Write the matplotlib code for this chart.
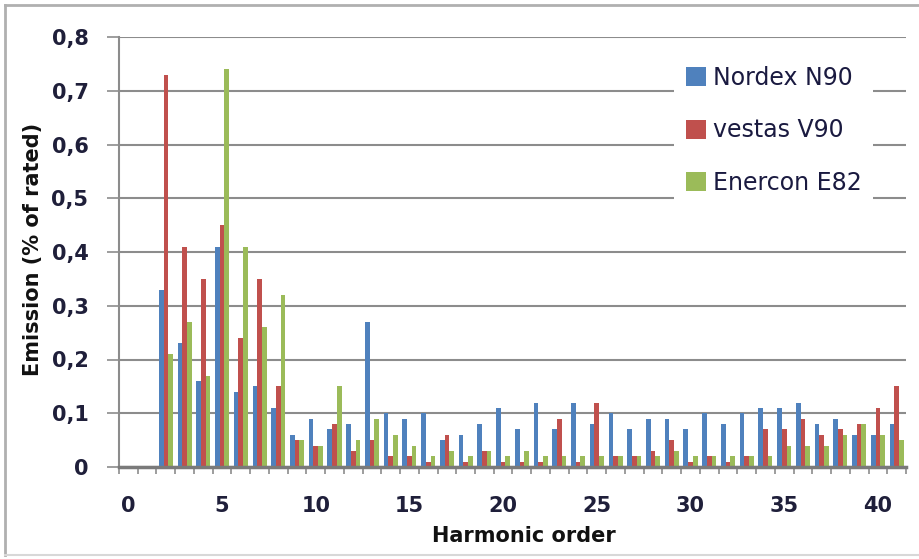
import matplotlib
matplotlib.use("Agg")
import matplotlib.pyplot as plt
from matplotlib.lines import Line2D
import numpy as np

plt.rcParams['font.family'] = ['DejaVu Sans']

harmonics = list(range(0, 42))
nordex_n90 = [0, 0, 0.33, 0.23, 0.16, 0.41, 0.14, 0.15, 0.11, 0.06,
              0.09, 0.07, 0.08, 0.27, 0.10, 0.09, 0.10, 0.05, 0.06, 0.08,
              0.11, 0.07, 0.12, 0.07, 0.12, 0.08, 0.10, 0.07, 0.09, 0.09,
              0.07, 0.10, 0.08, 0.10, 0.11, 0.11, 0.12, 0.08, 0.09, 0.06,
              0.06, 0.08]
vestas_v90 = [0, 0, 0.73, 0.41, 0.35, 0.45, 0.24, 0.35, 0.15, 0.05,
              0.04, 0.08, 0.03, 0.05, 0.02, 0.02, 0.01, 0.06, 0.01, 0.03,
              0.01, 0.01, 0.01, 0.09, 0.01, 0.12, 0.02, 0.02, 0.03, 0.05,
              0.01, 0.02, 0.01, 0.02, 0.07, 0.07, 0.09, 0.06, 0.07, 0.08,
              0.11, 0.15]
enercon_e82 = [0, 0, 0.21, 0.27, 0.17, 0.74, 0.41, 0.26, 0.32, 0.05,
               0.04, 0.15, 0.05, 0.09, 0.06, 0.04, 0.02, 0.03, 0.02, 0.03,
               0.02, 0.03, 0.02, 0.02, 0.02, 0.02, 0.02, 0.02, 0.02, 0.03,
               0.02, 0.02, 0.02, 0.02, 0.02, 0.04, 0.04, 0.04, 0.06, 0.08,
               0.06, 0.05]
series_names = ["Nordex N90", "vestas V90", "Enercon E82"]
series_colors = ["#4F81BD", "#C0504D", "#9BBB59"]
y_ticks = [0, 0.1, 0.2, 0.3, 0.4, 0.5, 0.6, 0.7, 0.8]
x_ticks = [0, 5, 10, 15, 20, 25, 30, 35, 40]

fig = plt.figure(figsize=(9.2, 5.59), dpi=100)
ax = fig.add_axes([119 / 920, 1 - 467 / 559, 787 / 920, 430 / 559])

x = np.array(harmonics)
w = 0.25
for i, (vals, name, col) in enumerate(zip([nordex_n90, vestas_v90, enercon_e82],
                                          series_names, series_colors)):
    ax.bar(x + (i - 1) * w, vals, width=w, color=col, label=name, zorder=3)

ax.set_xlim(-0.5, 41.5)
ax.set_ylim(0, 0.8)

ax.set_yticks(y_ticks)
ax.set_yticklabels([("%g" % v).replace(".", ",") for v in y_ticks])
ax.set_xticks(x_ticks)
ax.set_xticklabels([str(v) for v in x_ticks])
ax.set_xticks(np.arange(-0.5, 42, 1), minor=True)

ax.tick_params(axis='y', which='major', length=9, width=1.2, color='#8c8c8c',
               direction='out', pad=13, labelsize=15, labelcolor='#1f1f3a')
ax.tick_params(axis='x', which='major', length=0, pad=21, labelsize=15,
               labelcolor='#1f1f3a')
ax.tick_params(axis='x', which='minor', length=5, width=1.2, color='#8c8c8c',
               direction='out')
for lab in ax.get_yticklabels() + ax.get_xticklabels():
    lab.set_fontweight('bold')

ax.grid(axis='y', color='#8c8c8c', linewidth=1.5, zorder=0)
ax.set_axisbelow(True)
for s in ['top', 'right']:
    ax.spines[s].set_visible(False)
ax.spines['left'].set_color('#8c8c8c')
ax.spines['left'].set_linewidth(1.5)
ax.spines['bottom'].set_color('#7a7a7a')
ax.spines['bottom'].set_linewidth(2.5)
ax.spines['bottom'].set_zorder(4)

ax.set_xlabel("Harmonic order", fontsize=15, fontweight='bold', color='#111111')
ax.xaxis.set_label_coords(0.515, -0.16)
ax.xaxis.label.set_va('center')
ax.set_ylabel("Emission (% of rated)", fontsize=15, fontweight='bold',
              color='#111111')
ax.yaxis.set_label_coords(-0.109, 0.505)
ax.yaxis.label.set_va('center')

leg = ax.legend(loc='upper left', bbox_to_anchor=(0.705, 0.96), frameon=True,
                facecolor='white', edgecolor='none', framealpha=1,
                fontsize=17, handlelength=0.85, handleheight=0.85,
                handletextpad=0.3, labelspacing=1.2, borderpad=0.5,
                borderaxespad=0)
leg.set_zorder(5)
for t in leg.get_texts():
    t.set_color('#1a1a40')

# chart-area frame: left, top and bottom edges
frame_kw = dict(transform=fig.transFigure, color='#b0b0b0', linewidth=2)
fig.add_artist(Line2D([5 / 920, 5 / 920], [1 - 555 / 559, 1 - 5 / 559], **frame_kw))
fig.add_artist(Line2D([5 / 920, 1.0], [1 - 5 / 559, 1 - 5 / 559], **frame_kw))
fig.add_artist(Line2D([5 / 920, 1.0], [1 - 555 / 559, 1 - 555 / 559],
                      transform=fig.transFigure, color='#d8d8d8', linewidth=1.5))

fig.savefig("out.png", dpi=100, facecolor='white')
